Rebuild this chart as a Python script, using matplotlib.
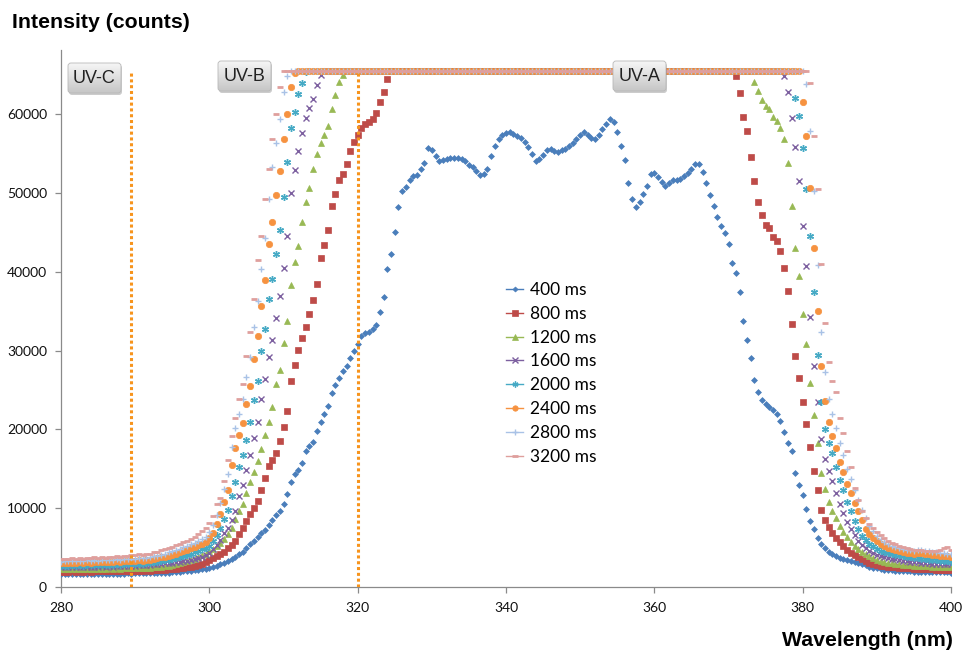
import numpy as np
import matplotlib
matplotlib.use('Agg')
import matplotlib.pyplot as plt
from matplotlib.lines import Line2D
from matplotlib.patches import FancyBboxPatch
from matplotlib.colors import LinearSegmentedColormap

plt.rcParams['font.family'] = ['Lato', 'DejaVu Sans']

SAT = 65535   # detector saturates here, the long exposures sit flat on it
STEP = 0.5    # nm between samples

labels = ['400 ms', '800 ms', '1200 ms', '1600 ms', '2000 ms', '2400 ms', '2800 ms', '3200 ms']
xticks = [280, 300, 320, 340, 360, 380, 400]
yticks = [0, 10000, 20000, 30000, 40000, 50000, 60000]
uv_edges = [289.5, 320]   # dotted band limits (nm)

# 400 ms never saturates: full trace 280 .. 400 nm
i400 = [
    1620, 1600, 1640, 1610, 1650, 1630, 1660, 1640, 1670, 1650,
    1680, 1660, 1690, 1670, 1700, 1680, 1710, 1700, 1720, 1710,
    1730, 1720, 1740, 1730, 1760, 1750, 1780, 1790, 1820, 1840,
    1870, 1900, 1940, 1980, 2030, 2080, 2140, 2200, 2270, 2340,
    2420, 2550, 2700, 2880, 3080, 3300, 3550, 3800, 4150, 4500,
    4940, 5400, 5900, 6350, 6800, 7280, 7850, 8450, 9100, 9700,
    10500, 11800, 13300, 14300, 14900, 15700, 17200, 17900, 18400, 19800,
    20900, 21900, 23000, 24600, 25600, 26500, 27400, 28000, 29000, 30000,
    30900, 31800, 32200, 32400, 32700, 33300, 34900, 36800, 40300, 42200,
    45000, 48200, 50200, 50800, 51600, 52100, 52300, 53000, 53800, 55700,
    55500, 54700, 54100, 54200, 54300, 54400, 54500, 54400, 54300, 54100,
    53600, 53300, 52800, 52300, 52400, 53000, 54700, 56000, 56900, 57300,
    57600, 57700, 57500, 57200, 57000, 56500, 55900, 55000, 54000, 54300,
    54800, 55400, 55600, 55300, 55200, 55400, 55600, 56000, 56400, 56900,
    57400, 57700, 57300, 57000, 56900, 57400, 58100, 58800, 59400, 59000,
    57700, 56000, 54200, 51300, 49200, 48200, 48900, 49900, 50900, 52400,
    52600, 52000, 51400, 50900, 51300, 51700, 51700, 51800, 52100, 52600,
    53100, 53700, 53700, 52700, 51300, 49800, 48400, 46900, 45800, 44900,
    43500, 41100, 39800, 37500, 33700, 31300, 29000, 26300, 24800, 23700,
    23200, 22900, 22500, 21900, 21100, 19700, 18300, 17200, 14500, 13000,
    11700, 9900, 8400, 7300, 6200, 5500, 4900, 4450, 4150, 3900,
    3720, 3580, 3450, 3300, 3150, 3000, 2880, 2780, 2600, 2450,
    2350, 2280, 2200, 2150, 2120, 2080, 2050, 2020, 2000, 1980,
    1960, 1950, 1940, 1930, 1920, 1900, 1880, 1870, 1860, 1850,
    1840,
]

# others: rising side starts at 280 nm, falling side ends at 400 nm,
# everything in between is at SAT
i800_up = [
    1900, 1960, 1920, 1980, 1940, 1990, 1950, 2000, 1960, 2010,
    1970, 2020, 1990, 2030, 2000, 2040, 2010, 2050, 2030, 2060,
    2040, 2080, 2060, 2100, 2090, 2120, 2130, 2160, 2200, 2230,
    2260, 2300, 2350, 2420, 2500, 2600, 2700, 2830, 2980, 3150,
    3380, 3620, 3900, 4200, 4500, 4900, 5300, 5800, 6700, 7500,
    8400, 9300, 10000, 10900, 12300, 13800, 15300, 16100, 17000, 18500,
    20300, 22300, 26200, 28200, 30100, 31600, 33000, 34600, 36400, 38500,
    41800, 43400, 45300, 48300, 49900, 51600, 52400, 53700, 55300, 56500,
    57300, 58200, 58700, 59000, 59400, 60200, 61600, 62800, 64500,
]
i800_down = [
    64800, 62700, 59700, 57900, 54600, 51500, 48900, 47200,
    46000, 45600, 44400, 43900, 42600, 40500, 37600, 33400, 29300, 26500,
    23500, 20700, 17800, 14700, 12300, 9800, 8500, 7600, 6900, 6250,
    5650, 5150, 4700, 4350, 4050, 3750, 3500, 3300, 3100, 2950,
    2820, 2720, 2640, 2580, 2530, 2480, 2440, 2410, 2380, 2350,
    2320, 2300, 2280, 2260, 2240, 2230, 2210, 2200, 2190, 2180,
    2170,
]

i1200_up = [
    2250, 2300, 2230, 2290, 2250, 2310, 2260, 2320, 2270, 2330,
    2280, 2340, 2300, 2360, 2310, 2370, 2330, 2390, 2350, 2400,
    2370, 2420, 2400, 2450, 2440, 2490, 2520, 2580, 2640, 2720,
    2800, 2900, 3000, 3120, 3250, 3400, 3570, 3780, 4000, 4250,
    4550, 4800, 5150, 5580, 6100, 6700, 7500, 8600, 9700, 10500,
    11900, 13300, 14600, 16000, 17500, 19300, 21000, 22800, 25800, 27600,
    31000, 33800, 38300, 41300, 43300, 46300, 48800, 50600, 53000, 55000,
    56300, 57400, 58500, 60600, 62400, 64100, 65000,
]
i1200_down = [
    64100, 62900, 61800,
    61000, 60600, 59700, 59200, 58200, 56800, 53800, 48400, 43000, 39500,
    34600, 30900, 25900, 21800, 18300, 14500, 12400, 10800, 9700, 8800,
    7800, 7000, 6350, 5750, 5250, 4850, 4450, 4150, 3900, 3650,
    3450, 3320, 3200, 3100, 3000, 2930, 2870, 2820, 2780, 2740,
    2710, 2680, 2650, 2640, 2620, 2600, 2590, 2580, 2570, 2560,
    2550,
]

i1600_up = [
    2480, 2540, 2500, 2560, 2510, 2570, 2530, 2590, 2540, 2600,
    2560, 2620, 2580, 2640, 2600, 2660, 2620, 2690, 2650, 2720,
    2690, 2750, 2730, 2800, 2800, 2860, 2900, 2960, 3000, 3050,
    3080, 3110, 3150, 3250, 3330, 3420, 3520, 3620, 3800, 4050,
    4350, 4800, 5300, 5970, 6820, 7500, 8500, 9700, 11500, 12900,
    14800, 16700, 18900, 21000, 23900, 26400, 29200, 31400, 34200, 36900,
    40500, 44500, 50000, 52900, 55300, 57600, 59500, 60800, 61900, 63700,
    65000,
]
i1600_down = [
    64800, 62800, 59500, 55800, 51500,
    45800, 40700, 34300, 28000, 23500, 18800, 16200, 14700, 13400, 11950,
    10500, 9350, 8200, 7350, 6550, 5850, 5350, 4950, 4600, 4320,
    4080, 3900, 3760, 3660, 3580, 3500, 3400, 3330, 3270, 3210,
    3160, 3120, 3080, 3040, 3000, 2970, 2950, 2930, 2910, 2890,
    2870,
]

i2000_up = [
    2660, 2720, 2680, 2740, 2690, 2760, 2710, 2780, 2730, 2800,
    2750, 2820, 2780, 2850, 2800, 2870, 2830, 2900, 2860, 2930,
    2900, 2970, 2950, 3020, 3050, 3120, 3200, 3280, 3370, 3470,
    3580, 3700, 3820, 3950, 4080, 4230, 4400, 4580, 4780, 4950,
    5250, 5900, 6650, 7450, 8600, 9800, 11500, 13300, 15200, 16700,
    18700, 21000, 23700, 26200, 30000, 32700, 36600, 39100, 42300, 45300,
    49500, 53900, 58300, 60300, 62600, 63900, 65300,
]
i2000_down = [
    62000, 59800,
    55700, 50500, 44500, 37400, 29500, 23500, 20000, 18300, 17000, 15200,
    13600, 12300, 10800, 9600, 8400, 7300, 6500, 5950, 5500, 5150,
    4850, 4620, 4450, 4320, 4200, 4100, 4000, 3920, 3840, 3770,
    3700, 3640, 3580, 3520, 3470, 3420, 3380, 3330, 3290, 3250,
    3220,
]

i2400_up = [
    3000, 3070, 3020, 3090, 3040, 3110, 3060, 3130, 3080, 3160,
    3110, 3190, 3140, 3220, 3170, 3250, 3210, 3290, 3250, 3330,
    3300, 3380, 3360, 3440, 3470, 3560, 3650, 3750, 3860, 3980,
    4110, 4250, 4400, 4560, 4730, 4910, 5100, 5300, 5500, 5700,
    6200, 6900, 8000, 9300, 10800, 12300, 15500, 17600, 19300, 20800,
    23200, 25500, 28900, 31800, 35600, 38900, 43500, 46300, 49800, 52800,
    56800, 60000, 63400, 65200,
]
i2400_down = [
    61500, 57200, 50700, 43000, 35000, 28000, 23600, 21000, 19200, 17700,
    15900, 14600, 13100, 11900, 10600, 9600, 8500, 7400, 6700, 6200,
    5800, 5450, 5200, 5000, 4850, 4700, 4550, 4400, 4320, 4270,
    4240, 4260, 4290, 4250, 4150, 4080, 4020, 3970, 3920, 3880,
    3850,
]

i2800_up = [
    3220, 3290, 3240, 3310, 3260, 3340, 3290, 3370, 3320, 3400,
    3350, 3430, 3380, 3470, 3420, 3510, 3460, 3550, 3510, 3600,
    3570, 3660, 3640, 3740, 3780, 3880, 3990, 4110, 4240, 4380,
    4530, 4690, 4860, 5040, 5230, 5430, 5640, 5860, 6100, 6400,
    7000, 7900, 9200, 10700, 12500, 14400, 17800, 20200, 22000, 23800,
    26600, 29200, 33000, 36300, 40400, 44300, 49200, 53300, 56300, 59400,
    62800, 64900,
]
i2800_down = [
    63800, 57900, 50200, 40900, 32300, 27300, 23800, 21900, 20200,
    18300, 16700, 15000, 13700, 12300, 11000, 9800, 8700, 7800, 7100,
    6500, 6050, 5700, 5450, 5250, 5080, 4930, 4800, 4700, 4650,
    4600, 4640, 4680, 4620, 4530, 4450, 4390, 4330, 4280, 4240,
    4200,
]

i3200_up = [
    3500, 3600, 3540, 3640, 3570, 3680, 3610, 3720, 3650, 3760,
    3690, 3810, 3740, 3860, 3800, 3920, 3860, 3980, 3930, 4050,
    4010, 4130, 4100, 4230, 4250, 4380, 4500, 4640, 4790, 4950,
    5120, 5300, 5490, 5690, 5900, 6120, 6350, 6700, 7050, 7500,
    8100, 9000, 10500, 11300, 13500, 16100, 19200, 21500, 23800, 25800,
    29300, 32400, 36600, 41500, 44600, 49300, 53000, 56800, 60000, 63500,
]
i3200_down = [
    64000, 57200, 50500, 41000, 33500, 28500, 26100, 24800,
    21500, 19500, 17200, 15200, 12600, 11100, 9700, 8700, 8000, 7500,
    7000, 6600, 6200, 5900, 5600, 5400, 5200, 5050, 4920, 4820,
    4740, 4690, 4650, 4610, 4570, 4520, 4600, 4750, 4900, 5050,
    4750,
]


def trace(up, down):
    x_up = 280 + STEP * np.arange(len(up))
    x_down = 400 - STEP * np.arange(len(down))[::-1]
    x_sat = np.arange(x_up[-1] + STEP, x_down[0] - STEP / 2, STEP)
    x = np.concatenate([x_up, x_sat, x_down])
    y = np.concatenate([up, np.full(len(x_sat), SAT), down])
    return x, y


series = [
    (280 + STEP * np.arange(len(i400)), np.array(i400)),
    trace(i800_up, i800_down),
    trace(i1200_up, i1200_down),
    trace(i1600_up, i1600_down),
    trace(i2000_up, i2000_down),
    trace(i2400_up, i2400_down),
    trace(i2800_up, i2800_down),
    trace(i3200_up, i3200_down),
]

# excel-ish marker per series: color, marker, size, edge width
styles = [
    ('#4a7ebb', 'D', 3.0, 0.5),
    ('#be4b48', 's', 4.5, 0.5),
    ('#98b954', '^', 4.8, 0.5),
    ('#7d60a0', 'x', 4.3, 1.0),
    ('#46aac5', (6, 2, 0), 5.0, 1.0),
    ('#f69240', 'o', 4.6, 0.5),
    ('#a9c2e6', '+', 5.0, 1.0),
    ('#df9f9d', '_', 4.5, 2.0),
]

fig = plt.figure(figsize=(9.76, 6.55), dpi=100)
ax = fig.add_axes([61 / 976, 1 - 587 / 655, 890 / 976, 537 / 655])

for k, ((x, y), (c, m, ms, mew)) in enumerate(zip(series, styles)):
    ax.plot(x, y, ls='none', marker=m, ms=ms, color=c, mec=c, mew=mew, zorder=3 + k)

for e in uv_edges:
    ax.plot([e, e], [0, SAT], color='#f7941d', lw=2.2, ls=(0, (1, 0.9)), zorder=20)

ax.set_xlim(280, 400)
ax.set_ylim(0, 68150)
ax.set_xticks(xticks)
ax.set_xticklabels([str(t) for t in xticks])
ax.set_yticks(yticks)
ax.set_yticklabels([str(t) for t in yticks])
for s in ['top', 'right']:
    ax.spines[s].set_visible(False)
for s in ['left', 'bottom']:
    ax.spines[s].set_color('#8a8a8a')
    ax.spines[s].set_linewidth(0.9)
ax.tick_params(direction='out', length=4, width=0.9, color='#8a8a8a', labelsize=10, labelcolor='#111111')
ax.tick_params(axis='x', pad=7)
ax.tick_params(axis='y', pad=6)

handles = [Line2D([], [], color=c, lw=1, marker=m, ms=ms * 0.85, mec=c, mew=mew)
           for c, m, ms, mew in styles]
ax.legend(handles, labels, loc='upper left', bbox_to_anchor=(506 / 976, 1 - 282 / 655),
          bbox_transform=fig.transFigure, frameon=False, prop={'family': 'Lato', 'size': 12.5},
          handlelength=1.0, handletextpad=0.4, labelspacing=0.45, borderpad=0, borderaxespad=0)

# overlay in pixel coordinates for the titles and the grey UV buttons
ov = fig.add_axes([0, 0, 1, 1], zorder=10)
ov.axis('off')

ov.text(12, 23, 'Intensity (counts)', fontsize=15.3, fontweight='bold',
        family='Liberation Sans', ha='left', va='center')
ov.text(953, 640, 'Wavelength (nm)', fontsize=15.3, fontweight='bold',
        family='Liberation Sans', ha='right', va='center')

uv_boxes = [('UV-C', 68, 63), ('UV-B', 218, 61), ('UV-A', 613, 61)]
btn = LinearSegmentedColormap.from_list('btn', ['#f6f6f6', '#c6c6c6'])
grad = np.linspace(0, 1, 64).reshape(-1, 1)
for txt, x0, y0 in uv_boxes:
    w, h = 53, 30
    ov.add_patch(FancyBboxPatch((x0 + 1, y0 + 2), w, h, boxstyle='round,pad=0,rounding_size=3',
                                fc='black', ec='none', alpha=0.2))
    box = FancyBboxPatch((x0, y0), w, h, boxstyle='round,pad=0,rounding_size=3',
                         fc='none', ec='#b8b8b8', lw=0.6, zorder=3)
    ov.add_patch(box)
    im = ov.imshow(grad, cmap=btn, extent=[x0, x0 + w, y0 + h, y0], aspect='auto', zorder=2)
    im.set_clip_path(box)
    ov.text(x0 + w / 2, y0 + h / 2 + 0.5, txt, fontsize=13, family='Liberation Sans',
            color='#222222', ha='center', va='center', zorder=4)

ov.set_xlim(0, 976)
ov.set_ylim(655, 0)

fig.savefig('out.png', dpi=100)
